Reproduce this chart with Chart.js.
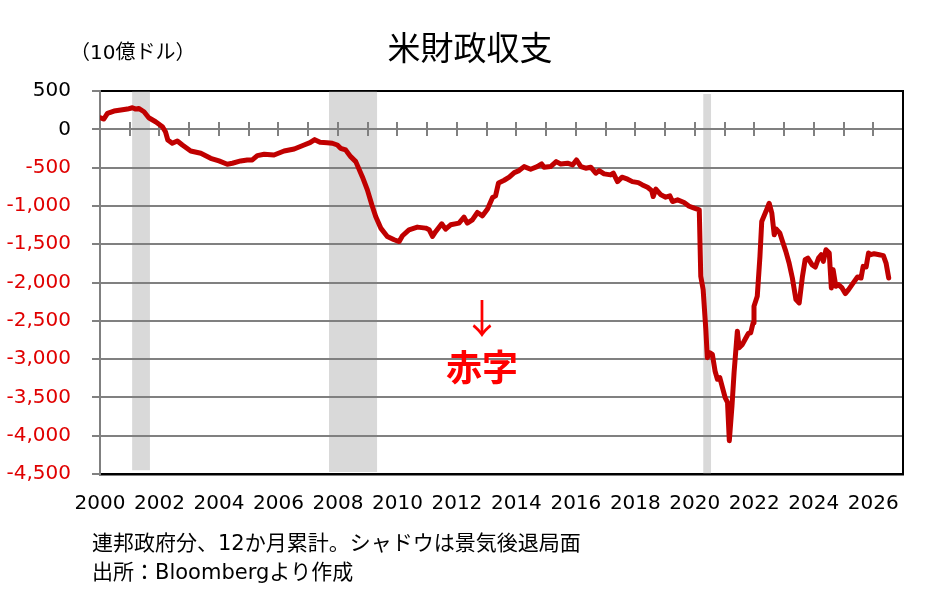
<!DOCTYPE html>
<html>
<head>
<meta charset="utf-8">
<script src="https://cdn.jsdelivr.net/npm/chart.js@4"></script>
<style>
  body { margin: 0; background: #fff; }
</style>
</head>
<body>
<canvas id="chart" width="940" height="605"></canvas>
<script>
// 12-month cumulative federal balance, billions of dollars
const years = [
  2000.00, 2000.13, 2000.25, 2000.47, 2000.70, 2000.92, 2001.09, 2001.20, 2001.30, 2001.48,
  2001.64, 2001.87, 2002.10, 2002.20, 2002.28, 2002.43, 2002.60, 2002.77, 2003.05, 2003.39,
  2003.72, 2004.00, 2004.28, 2004.45, 2004.73, 2004.95, 2005.12, 2005.29, 2005.52, 2005.85,
  2006.19, 2006.53, 2006.86, 2007.06, 2007.22, 2007.40, 2007.64, 2007.81, 2007.98, 2008.09,
  2008.26, 2008.43, 2008.60, 2008.82, 2008.99, 2009.14, 2009.27, 2009.44, 2009.66, 2009.89,
  2010.06, 2010.17, 2010.39, 2010.67, 2010.95, 2011.07, 2011.18, 2011.29, 2011.49, 2011.62,
  2011.79, 2012.07, 2012.24, 2012.35, 2012.52, 2012.69, 2012.86, 2013.03, 2013.20, 2013.30,
  2013.40, 2013.59, 2013.76, 2013.93, 2014.09, 2014.26, 2014.48, 2014.70, 2014.85, 2014.93,
  2015.15, 2015.34, 2015.49, 2015.72, 2015.89, 2016.02, 2016.17, 2016.33, 2016.50, 2016.67,
  2016.78, 2016.95, 2017.17, 2017.26, 2017.40, 2017.55, 2017.74, 2017.90, 2018.10, 2018.24,
  2018.41, 2018.55, 2018.60, 2018.69, 2018.86, 2019.02, 2019.16, 2019.25, 2019.42, 2019.64,
  2019.81, 2019.98, 2020.15, 2020.20, 2020.28, 2020.37, 2020.42, 2020.50, 2020.59, 2020.68,
  2020.76, 2020.84, 2020.93, 2021.02, 2021.10, 2021.16, 2021.25, 2021.32, 2021.43, 2021.49,
  2021.60, 2021.72, 2021.80, 2021.88, 2021.96, 2021.99, 2022.10, 2022.19, 2022.25, 2022.39,
  2022.50, 2022.59, 2022.67, 2022.74, 2022.86, 2022.95, 2023.06, 2023.17, 2023.28, 2023.40,
  2023.51, 2023.62, 2023.71, 2023.80, 2023.94, 2024.05, 2024.16, 2024.25, 2024.32, 2024.41,
  2024.52, 2024.59, 2024.65, 2024.74, 2024.83, 2024.95, 2025.06, 2025.17, 2025.31, 2025.47,
  2025.59, 2025.66, 2025.76, 2025.84, 2025.92, 2026.03, 2026.20, 2026.34, 2026.43, 2026.52
];
const balance = [
  151, 134, 208, 238, 251, 264, 281, 264, 273, 229,
  151, 99, 34, -31, -139, -182, -152, -205, -283, -313,
  -378, -413, -456, -443, -413, -400, -400, -344, -326, -335,
  -283, -257, -205, -175, -135, -170, -175, -182, -205, -248,
  -270, -357, -422, -618, -791, -986, -1139, -1290, -1399, -1442,
  -1465, -1390, -1312, -1277, -1290, -1312, -1399, -1334, -1234, -1303,
  -1247, -1225, -1147, -1225, -1182, -1086, -1130, -1042, -890, -869,
  -700, -665, -625, -565, -539, -487, -521, -487, -452, -495,
  -487, -422, -452, -443, -465, -400, -487, -508, -495, -573,
  -539, -582, -595, -573, -683, -625, -651, -683, -696, -726,
  -756, -800, -878, -782, -856, -886, -869, -943, -921, -956,
  -1005, -1030, -1052, -1919, -2093, -2613, -2982, -2917, -2938, -3155,
  -3263, -3242, -3372, -3502, -3567, -4066, -3610, -3177, -2635, -2851,
  -2808, -2721, -2665, -2656, -2526, -2309, -2179, -1659, -1204, -1074,
  -965, -1095, -1377, -1304, -1356, -1464, -1594, -1746, -1941, -2223,
  -2266, -1919, -1702, -1681, -1767, -1798, -1681, -1637, -1724, -1572,
  -1616, -2071, -1832, -2049, -2028, -2071, -2145, -2093, -2015, -1928,
  -1941, -1789, -1798, -1616, -1637, -1624, -1637, -1650, -1746, -1941
];

// recession shading
const recessionStart = [2001.08, 2007.70, 2020.28];
const recessionEnd = [2001.68, 2009.32, 2020.55];
const recessionTop = [500, 500, 460];
const recessionBottom = [-4450, -4475, -4500];

// axis labels
const yearLabels = [2000, 2002, 2004, 2006, 2008, 2010, 2012, 2014, 2016, 2018, 2020, 2022, 2024, 2026];
const yearMarks = [];
for (let y = 2001; y <= 2026; y++) yearMarks.push(y);

const numFont = '"DejaVu Sans", "Noto Sans CJK JP", sans-serif';
const jpFont = '"Noto Sans CJK JP", sans-serif';
const mixFont = '"DejaVu Sans", "Noto Sans CJK JP", sans-serif';
const gray = '#808080';

let bands = recessionStart.map((s, i) => ({
  type: 'line',
  data: [{ x: s, y: recessionTop[i] }, { x: recessionEnd[i], y: recessionTop[i] }],
  fill: { value: recessionBottom[i] },
  backgroundColor: 'rgba(128,128,128,0.3)',
  borderWidth: 0,
  pointRadius: 0,
  order: 2
}));

let lineSet = {
  type: 'line',
  data: years.map((x, i) => ({ x: x, y: balance[i] })),
  borderColor: '#c00000',
  borderWidth: 5,
  borderJoinStyle: 'round',
  borderCapStyle: 'round',
  pointRadius: 0,
  tension: 0,
  fill: false,
  order: 0
};

// titles, unit and notes
const textPlugin = {
  id: 'texts',
  afterDraw(chart) {
    const ctx = chart.ctx;
    ctx.save();
    ctx.fillStyle = '#000';
    ctx.textBaseline = 'middle';
    ctx.textAlign = 'center';
    ctx.font = '33px ' + jpFont;
    ctx.fillText('米財政収支', 470, 47);

    ctx.textAlign = 'left';
    ctx.font = '20px ' + mixFont;
    ctx.fillText('（10億ドル）', 70, 54);

    ctx.font = '21px ' + mixFont;
    ctx.fillText('連邦政府分、12か月累計。シャドウは景気後退局面', 92, 545);
    ctx.fillText('出所：Bloombergより作成', 92, 574);

    ctx.fillStyle = '#ff0000';
    ctx.textAlign = 'center';
    ctx.font = '40px ' + jpFont;
    ctx.fillText('↓', 482, 318);
    ctx.font = 'bold 36px ' + jpFont;
    ctx.fillText('赤字', 482, 367);
    ctx.restore();
  }
};

new Chart(document.getElementById('chart'), {
  type: 'line',
  data: { datasets: [lineSet].concat(bands) },
  plugins: [textPlugin],
  options: {
    responsive: false,
    animation: false,
    layout: { padding: { top: 91, right: 37, left: 0, bottom: 0 } },
    plugins: { legend: { display: false }, tooltip: { enabled: false }, title: { display: false } },
    scales: {
      x: {
        type: 'linear',
        position: 'bottom',
        min: 2000,
        max: 2027,
        afterBuildTicks: s => { s.ticks = yearLabels.map(v => ({ value: v })); },
        afterFit: s => { s.height = 131; },
        grid: { display: false, drawTicks: false },
        border: { display: true, color: '#000', width: 2.5 },
        ticks: {
          padding: 18,
          maxRotation: 0,
          autoSkip: false,
          color: '#000',
          font: { family: numFont, size: 20 },
          callback: v => String(v)
        }
      },
      // cross tick marks on the zero line
      xMarks: {
        type: 'linear',
        axis: 'x',
        position: { y: 91 },
        min: 2000,
        max: 2027,
        afterBuildTicks: s => { s.ticks = yearMarks.map(v => ({ value: v })); },
        afterFit: s => { s.height = 0; },
        ticks: { display: false },
        border: { display: false },
        grid: { drawOnChartArea: false, drawTicks: true, tickLength: 14, color: gray, lineWidth: 2 }
      },
      y: {
        type: 'linear',
        position: 'left',
        min: -4500,
        max: 500,
        afterFit: s => { s.width = 100; },
        border: { display: true, color: gray, width: 2 },
        grid: {
          color: c => (c.tick && c.tick.value === 500) ? '#000' : gray,
          tickColor: gray,
          lineWidth: 2,
          tickLength: 8
        },
        ticks: {
          stepSize: 500,
          padding: 21,
          color: c => c.tick.value < 0 ? '#e00000' : '#000',
          font: { family: numFont, size: 20 },
          callback: v => v.toLocaleString('en-US')
        }
      },
      yRight: {
        type: 'linear',
        position: 'right',
        min: -4500,
        max: 500,
        afterFit: s => { s.width = 0; },
        ticks: { display: false },
        grid: { drawOnChartArea: false, drawTicks: false },
        border: { display: true, color: '#000', width: 2 }
      }
    }
  }
});
</script>
</body>
</html>
